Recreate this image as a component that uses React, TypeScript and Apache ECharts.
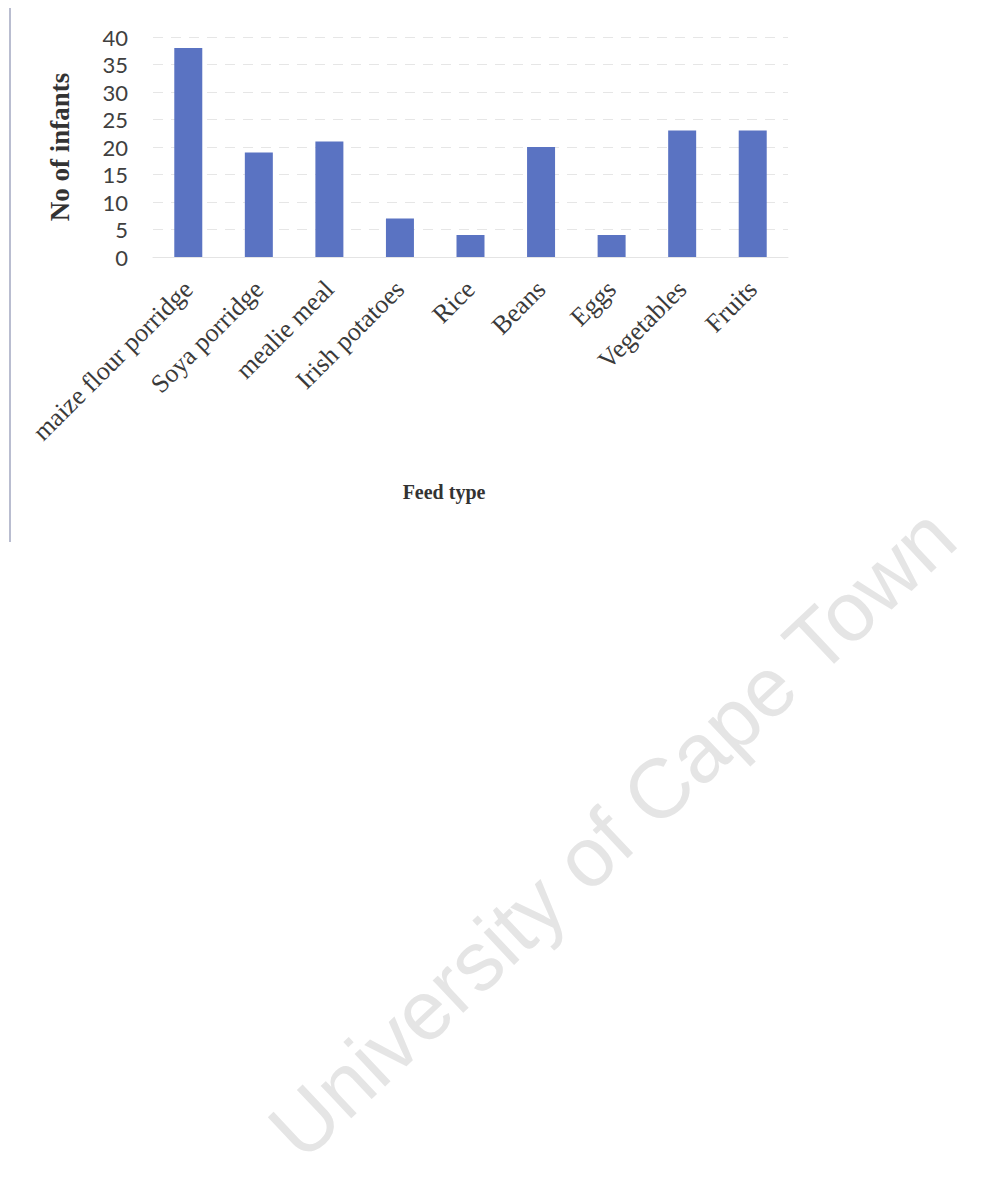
import React, { useEffect, useRef } from "react";
import * as echarts from "echarts";

const categories = [
  "maize flour porridge",
  "Soya porridge",
  "mealie meal",
  "Irish potatoes",
  "Rice",
  "Beans",
  "Eggs",
  "Vegetables",
  "Fruits",
];
const infants = [38, 19, 21, 7, 4, 20, 4, 23, 23];
const yTicks = { min: 0, max: 40, interval: 5 };
const xTitle = "Feed type";
const yTitle = "No of infants";
const watermark = "University of Cape Town";

export default function App() {
  const ref = useRef<HTMLDivElement>(null);
  useEffect(() => {
    if (!ref.current) return;
    const chart = echarts.init(ref.current, undefined, { renderer: "svg" });
    chart.setOption({
      animation: false,
      backgroundColor: "#ffffff",
      grid: { left: 153, right: 196, top: 37, height: 220, containLabel: false },
      xAxis: {
        type: "category",
        data: categories,
        axisLine: { show: true, lineStyle: { color: "#e4e4e4", width: 1 } },
        axisTick: { show: false },
        axisLabel: {
          interval: 0,
          rotate: 45,
          margin: 28,
          fontFamily: "Liberation Serif",
          fontSize: 26,
          color: "#3a3a3a",
        },
      },
      yAxis: {
        type: "value",
        min: yTicks.min,
        max: yTicks.max,
        interval: yTicks.interval,
        name: yTitle,
        nameLocation: "middle",
        nameGap: 80,
        nameRotate: 90,
        nameTextStyle: {
          fontFamily: "Liberation Serif",
          fontWeight: "bold",
          fontSize: 27,
          color: "#333333",
        },
        axisLine: { show: false },
        axisTick: { show: false },
        axisLabel: {
          margin: 25,
          fontFamily: "Lato",
          fontSize: 22,
          color: "#404040",
        },
        splitLine: {
          show: true,
          lineStyle: { color: "#e6e6e6", type: [10, 8], width: 1 },
        },
      },
      series: [
        {
          type: "bar",
          data: infants,
          barWidth: 28,
          itemStyle: { color: "#5a73c2" },
        },
      ],
      graphic: [
        {
          type: "line",
          shape: { x1: 10, y1: 8, x2: 10, y2: 542 },
          style: { stroke: "#b9bdd0", lineWidth: 2 },
        },
        {
          type: "text",
          x: 444,
          y: 492,
          style: {
            text: xTitle,
            fontFamily: "Liberation Serif",
            fontWeight: "bold",
            fontSize: 20,
            fill: "#333333",
            textAlign: "center",
            textVerticalAlign: "middle",
          },
        },
        {
          type: "text",
          x: 612,
          y: 833,
          rotation: 0.755,
          style: {
            text: watermark,
            fontFamily: "Liberation Sans",
            fontSize: 84,
            fill: "#e5e5e5",
            textAlign: "center",
            textVerticalAlign: "middle",
          },
          z: -1,
        },
      ],
    });
    return () => chart.dispose();
  }, []);
  return (
    <div
      ref={ref}
      style={{ position: "absolute", left: 0, top: 0, width: 984, height: 1186 }}
    />
  );
}
